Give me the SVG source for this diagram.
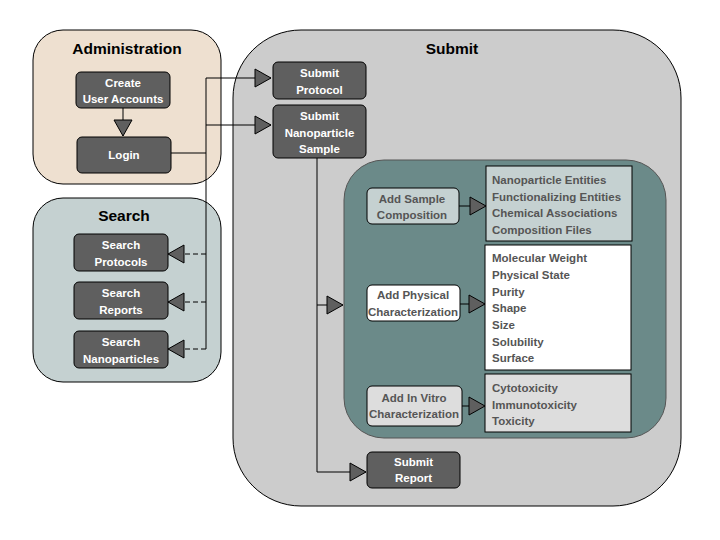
<svg xmlns="http://www.w3.org/2000/svg" width="720" height="540" viewBox="0 0 720 540">
<style>
  text { font-family: "Liberation Sans", Arial, sans-serif; font-weight: bold; }
  .title { font-size: 15.5px; fill: #000; text-anchor: middle; }
  .nt { font-size: 11.5px; fill: #fff; text-anchor: middle; }
  .gt { font-size: 11.5px; fill: #555; text-anchor: middle; }
  .lt { font-size: 11.5px; fill: #555; }
  .node { fill: #5f5f5f; stroke: #000; stroke-width: 1; }
  .line { fill: none; stroke: #000; stroke-width: 1; }
  .dash { fill: none; stroke: #000; stroke-width: 1; stroke-dasharray: 5 3; }
  .box { stroke: #000; stroke-width: 1; }
</style>
<defs>
  <marker id="tri" markerUnits="userSpaceOnUse" markerWidth="20" markerHeight="22" refX="17" refY="10" orient="auto" overflow="visible">
    <path d="M1,1 L17,10 L1,19 Z" fill="#5f5f5f" stroke="#000" stroke-width="1"/>
  </marker>
</defs>
<rect width="720" height="540" fill="#fff"/>

<g id="admin-group">
  <rect x="33" y="30" width="188" height="154" rx="30" fill="#eee0d0" class="box"/>
  <text class="title" x="127" y="54">Administration</text>
</g>
<g id="search-group">
  <rect x="33" y="198" width="188" height="184" rx="30" fill="#c5d1d1" class="box"/>
  <text class="title" x="124" y="221">Search</text>
</g>
<g id="submit-group">
  <rect x="233" y="30" width="448" height="476" rx="68" fill="#cccccc" class="box"/>
  <text class="title" x="452" y="54">Submit</text>
</g>
<g id="sample-group">
  <rect x="344" y="160" width="322" height="278" rx="40" fill="#6b8a89" stroke="#555" stroke-width="1"/>
</g>

<g id="connectors">
  <path class="line" d="M123,108 V136" marker-end="url(#tri)"/>
  <path class="line" d="M171,153 H206 V78 H271" marker-end="url(#tri)"/>
  <path class="line" d="M206,125 H271" marker-end="url(#tri)"/>
  <path class="line" d="M206,153 V349"/>
  <path class="dash" d="M206,254 H168" marker-end="url(#tri)"/>
  <path class="dash" d="M206,302 H168" marker-end="url(#tri)"/>
  <path class="dash" d="M206,349 H168" marker-end="url(#tri)"/>
  <path class="line" d="M317,158 V472 H366" marker-end="url(#tri)"/>
  <path class="line" d="M317,305 H343" marker-end="url(#tri)"/>
  <path class="line" d="M459,206 H486" marker-end="url(#tri)"/>
  <path class="line" d="M460,304 H485" marker-end="url(#tri)"/>
  <path class="line" d="M462,406 H485" marker-end="url(#tri)"/>
</g>

<g id="create-user-accounts">
  <rect class="node" x="76" y="72" width="94" height="36" rx="5"/>
  <text class="nt" x="123" y="87">Create</text>
  <text class="nt" x="123" y="103">User Accounts</text>
</g>
<g id="login">
  <rect class="node" x="77" y="137" width="94" height="36" rx="5"/>
  <text class="nt" x="124" y="159">Login</text>
</g>
<g id="search-protocols">
  <rect class="node" x="74" y="234" width="94" height="37" rx="5"/>
  <text class="nt" x="121" y="249">Search</text>
  <text class="nt" x="121" y="266">Protocols</text>
</g>
<g id="search-reports">
  <rect class="node" x="74" y="282" width="94" height="37" rx="5"/>
  <text class="nt" x="121" y="297">Search</text>
  <text class="nt" x="121" y="314">Reports</text>
</g>
<g id="search-nanoparticles">
  <rect class="node" x="74" y="331" width="94" height="37" rx="5"/>
  <text class="nt" x="121" y="346">Search</text>
  <text class="nt" x="121" y="363">Nanoparticles</text>
</g>
<g id="submit-protocol">
  <rect class="node" x="273" y="62" width="93" height="37" rx="5"/>
  <text class="nt" x="319.5" y="77">Submit</text>
  <text class="nt" x="319.5" y="94">Protocol</text>
</g>
<g id="submit-nanoparticle-sample">
  <rect class="node" x="273" y="105" width="93" height="53" rx="5"/>
  <text class="nt" x="319.5" y="120">Submit</text>
  <text class="nt" x="319.5" y="137">Nanoparticle</text>
  <text class="nt" x="319.5" y="153">Sample</text>
</g>
<g id="submit-report">
  <rect class="node" x="367" y="452" width="93" height="36" rx="5"/>
  <text class="nt" x="413.5" y="466">Submit</text>
  <text class="nt" x="413.5" y="482">Report</text>
</g>

<g id="add-sample-composition">
  <rect x="367" y="188" width="92" height="36" rx="5" fill="#c5d1d1" class="box"/>
  <text class="gt" x="412" y="203">Add Sample</text>
  <text class="gt" x="412" y="219">Composition</text>
</g>
<g id="add-physical-characterization">
  <rect x="367" y="285" width="93" height="36" rx="5" fill="#fff" class="box"/>
  <text class="gt" x="413" y="299">Add Physical</text>
  <text class="gt" x="413" y="316">Characterization</text>
</g>
<g id="add-in-vitro-characterization">
  <rect x="367" y="386" width="95" height="40" rx="5" fill="#dddddd" class="box"/>
  <text class="gt" x="414" y="402">Add In Vitro</text>
  <text class="gt" x="414" y="418">Characterization</text>
</g>

<g id="composition-list">
  <rect x="486" y="166" width="146" height="75" fill="#c5d1d1" class="box"/>
  <text class="lt" x="492" y="184">Nanoparticle Entities</text>
  <text class="lt" x="492" y="201">Functionalizing Entities</text>
  <text class="lt" x="492" y="217">Chemical Associations</text>
  <text class="lt" x="492" y="234">Composition Files</text>
</g>
<g id="physical-list">
  <rect x="485" y="245" width="146" height="125" fill="#fff" class="box"/>
  <text class="lt" x="492" y="262">Molecular Weight</text>
  <text class="lt" x="492" y="279">Physical State</text>
  <text class="lt" x="492" y="295.5">Purity</text>
  <text class="lt" x="492" y="312">Shape</text>
  <text class="lt" x="492" y="329">Size</text>
  <text class="lt" x="492" y="345.5">Solubility</text>
  <text class="lt" x="492" y="362">Surface</text>
</g>
<g id="invitro-list">
  <rect x="485" y="374" width="146" height="58" fill="#dddddd" class="box"/>
  <text class="lt" x="492" y="392">Cytotoxicity</text>
  <text class="lt" x="492" y="408.5">Immunotoxicity</text>
  <text class="lt" x="492" y="425">Toxicity</text>
</g>
</svg>
